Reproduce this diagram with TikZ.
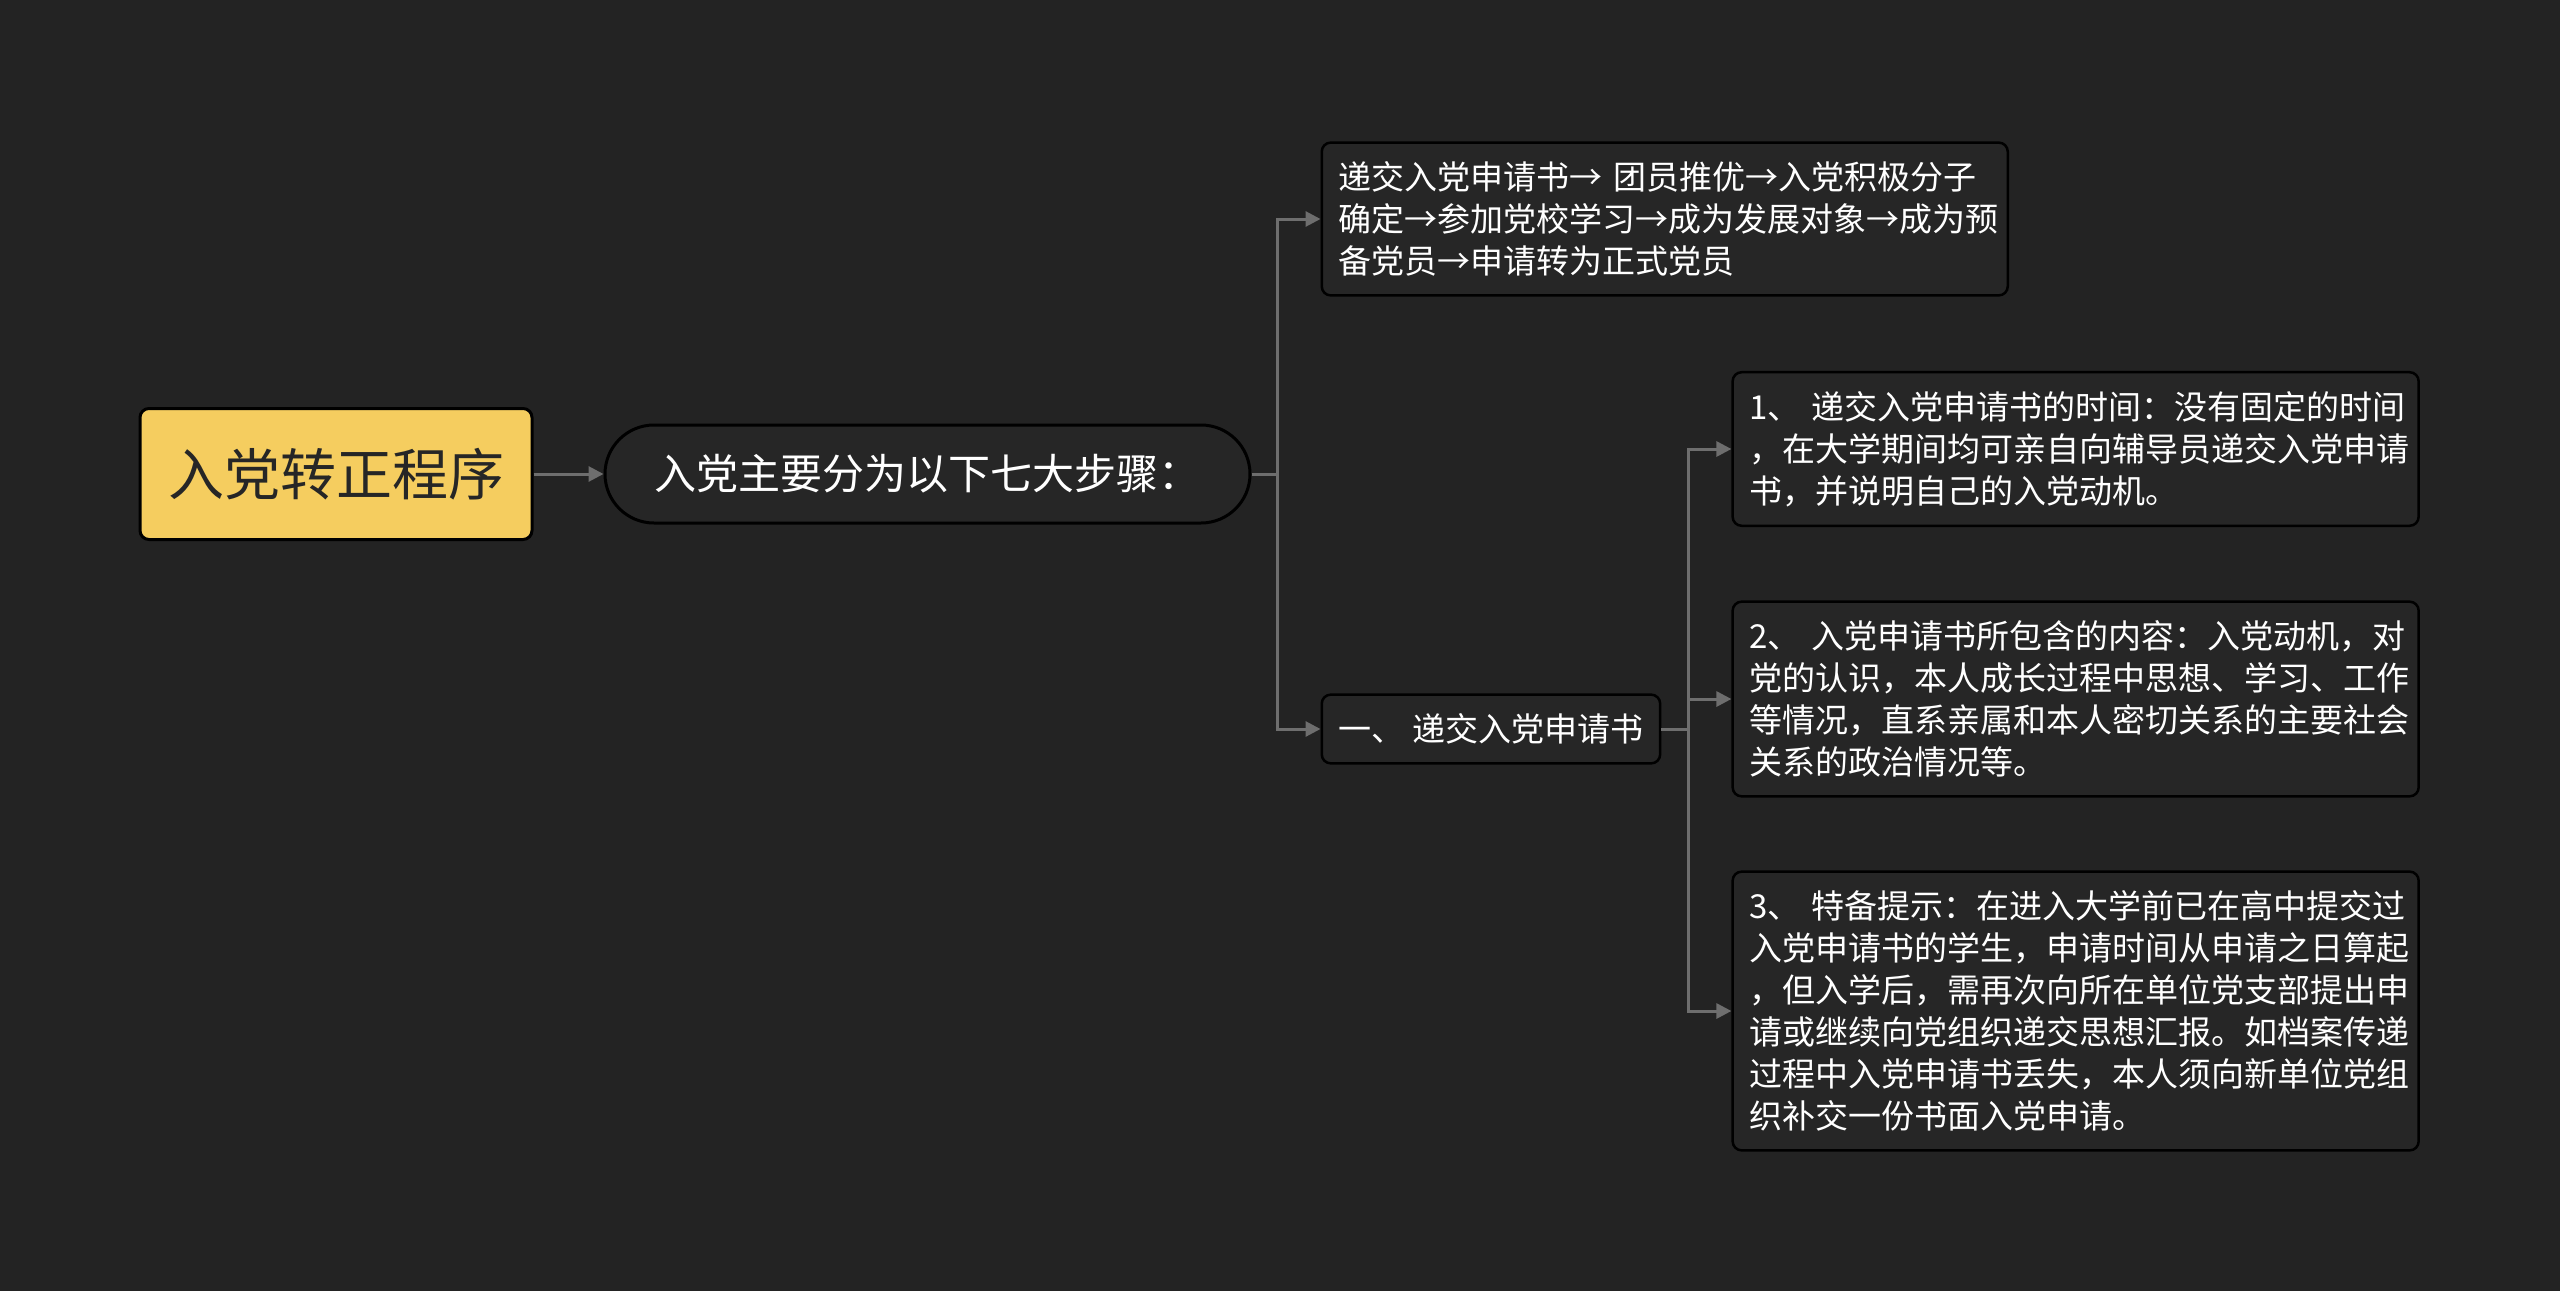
\documentclass[tikz,border=0pt]{standalone}
\usepackage{fontspec}
\setmainfont{Noto Sans CJK SC}
\usetikzlibrary{arrows.meta, positioning, calc}
\definecolor{bgdark}{HTML}{232323}
\definecolor{boxdark}{HTML}{262626}
\definecolor{rootyellow}{HTML}{F5CD5F}
\definecolor{linegray}{HTML}{6E6E6E}
\tikzset{
  root/.style={rectangle, draw=black, line width=3pt, rounded corners=9pt,
               fill=rootyellow, text=black!85, minimum width=392pt,
               minimum height=131pt, font=\fontsize{56}{60}\selectfont},
  pill/.style={rectangle, draw=black, line width=3pt, rounded corners=49pt,
               fill=boxdark, text=white, minimum width=645pt,
               minimum height=98pt, font=\fontsize{42}{46}\selectfont},
  leaf/.style={rectangle, draw=black, line width=2.5pt, rounded corners=9pt,
               fill=boxdark, text=white, align=left, inner xsep=17pt,
               inner ysep=19pt, font=\fontsize{33}{42}\selectfont},
  wide/.style={leaf, text width=652pt},
  conn/.style={draw=linegray, line width=3pt,
               -{Triangle[length=15pt, width=15pt]}},
}
\begin{document}
\begin{tikzpicture}
  \useasboundingbox[fill=bgdark] (0pt,0pt) rectangle (2560pt,-1291pt);
  % main topic
  \node[root] (root) at (336pt,-474pt) {入党转正程序};
  \node[pill, right=70pt of root] (steps) {入党主要分为以下七大步骤：};
  \draw[conn] (root.east) -- (steps.west);
  % first level
  \node[wide, anchor=west] (flow) at ([xshift=69pt, yshift=255pt]steps.east)
    {递交入党申请书→ 团员推优→入党积极分子\\确定→参加党校学习→成为发展对象→成为预\\备党员→申请转为正式党员};
  \node[leaf, anchor=west] (apply) at ([xshift=69pt, yshift=-255pt]steps.east)
    {一、 递交入党申请书};
  \draw[conn] (steps.east) -- ++(26pt,0) |- (flow.west);
  \draw[conn] (steps.east) -- ++(26pt,0) |- (apply.west);
  % second level
  \node[wide, anchor=west] (time) at ([xshift=70pt, yshift=280pt]apply.east)
    {1、 递交入党申请书的时间：没有固定的时间\\，在大学期间均可亲自向辅导员递交入党申请\\书，并说明自己的入党动机。};
  \node[wide, anchor=west] (content) at ([xshift=70pt, yshift=30pt]apply.east)
    {2、 入党申请书所包含的内容：入党动机，对\\党的认识，本人成长过程中思想、学习、工作\\等情况，直系亲属和本人密切关系的主要社会\\关系的政治情况等。};
  \node[wide, anchor=west] (notice) at ([xshift=70pt, yshift=-282pt]apply.east)
    {3、 特备提示：在进入大学前已在高中提交过\\入党申请书的学生，申请时间从申请之日算起\\，但入学后，需再次向所在单位党支部提出申\\请或继续向党组织递交思想汇报。如档案传递\\过程中入党申请书丢失，本人须向新单位党组\\织补交一份书面入党申请。};
  \draw[conn] (apply.east) -- ++(27pt,0) |- (time.west);
  \draw[conn] (apply.east) -- ++(27pt,0) |- (content.west);
  \draw[conn] (apply.east) -- ++(27pt,0) |- (notice.west);
\end{tikzpicture}
\end{document}
